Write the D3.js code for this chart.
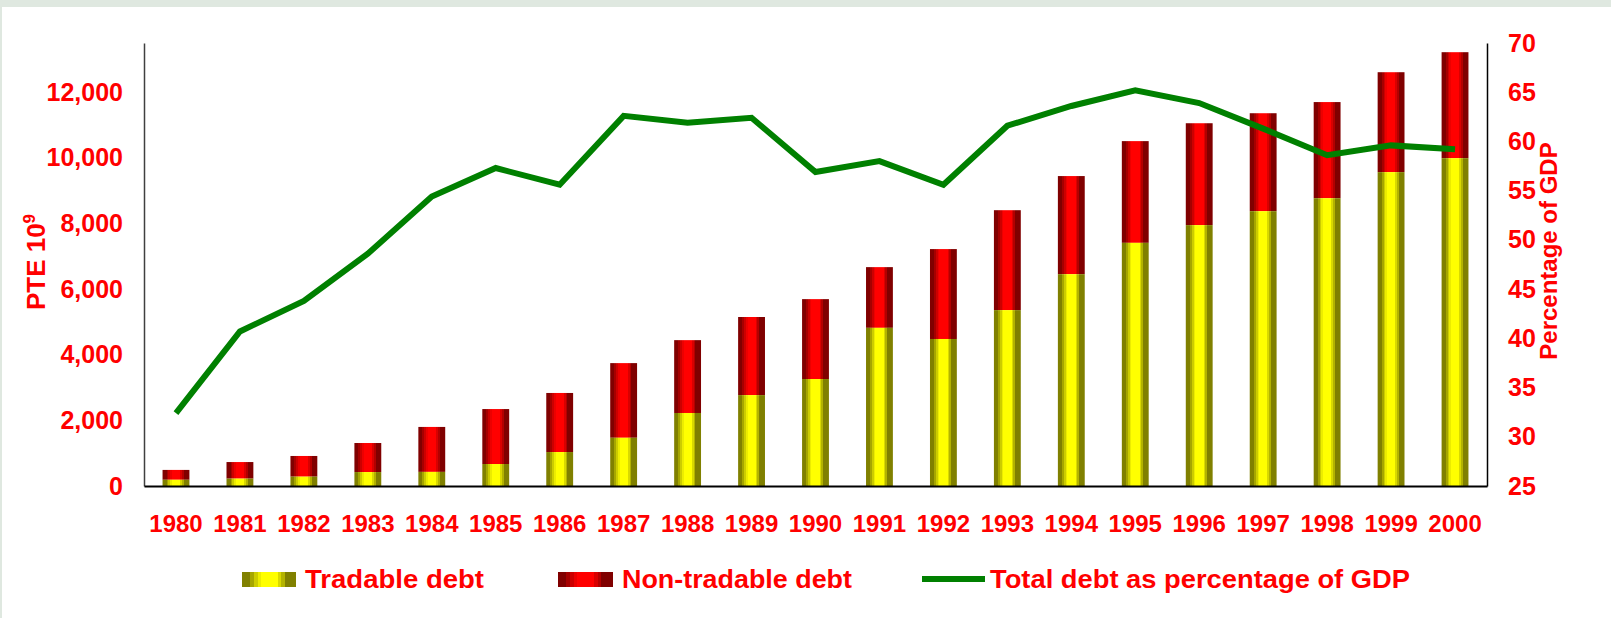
<!DOCTYPE html>
<html>
<head>
<meta charset="utf-8">
<script src="https://cdn.jsdelivr.net/npm/d3@7"></script>
<style>
  body { margin: 0; background: #ffffff; }
  text { font-family: "Liberation Sans", Arial, sans-serif; font-weight: bold; fill: #ff0000; }
</style>
</head>
<body>
<svg id="chart"></svg>
<script>
// data
var years = ["1980","1981","1982","1983","1984","1985","1986","1987","1988","1989","1990",
             "1991","1992","1993","1994","1995","1996","1997","1998","1999","2000"];
var tradable = [190, 225, 285, 425, 430, 670, 1035, 1470, 2225, 2770, 3260,
                4820, 4480, 5360, 6455, 7410, 7950, 8375, 8770, 9565, 9990];
var totalDebt = [490, 730, 915, 1310, 1800, 2345, 2835, 3745, 4445, 5150, 5695,
                 6670, 7220, 8405, 9445, 10510, 11055, 11360, 11700, 12610, 13220];
var pctGDP = [32.4, 40.7, 43.8, 48.6, 54.4, 57.3, 55.6, 62.6, 61.9, 62.4, 56.9,
              58.0, 55.6, 61.6, 63.6, 65.2, 63.9, 61.3, 58.6, 59.6, 59.2];
var leftTicks = [0, 2000, 4000, 6000, 8000, 10000, 12000];
var rightTicks = [25, 30, 35, 40, 45, 50, 55, 60, 65, 70];
var legendLabels = ["Tradable debt", "Non-tradable debt", "Total debt as percentage of GDP"];

var screen = {width: 1611, height: 618};
var plot = {left: 144, right: 1487, top: 43, bottom: 486};

var svg = d3.select("#chart")
    .attr("width", screen.width)
    .attr("height", screen.height);

// slide frame
svg.append("rect").attr("width", screen.width).attr("height", screen.height).attr("fill", "#dfe8e0");
svg.append("rect").attr("x", 2).attr("y", 7).attr("width", screen.width - 2).attr("height", screen.height - 7).attr("fill", "#ffffff");

// banded gradients for the cylinder look
var defs = svg.append("defs");
var bands = [[0, 0.15, 0], [0.15, 0.22, 0.3], [0.22, 0.29, 0.6], [0.29, 0.35, 0.85],
             [0.35, 0.66, 1], [0.66, 0.72, 0.7], [0.72, 0.79, 0.4], [0.79, 1, 0]];
var makeGrad = function(id, dark, light){
    var g = defs.append("linearGradient").attr("id", id)
        .attr("x1", "0%").attr("x2", "100%").attr("y1", "0%").attr("y2", "0%");
    var mix = d3.interpolateRgb(dark, light);
    bands.forEach(function(b){
        g.append("stop").attr("offset", b[0]).attr("stop-color", mix(b[2]));
        g.append("stop").attr("offset", b[1]).attr("stop-color", mix(b[2]));
    });
};
makeGrad("gradYellow", "#808000", "#ffff00");
makeGrad("gradRed", "#800000", "#ff0000");

var xScale = d3.scaleBand()
    .domain(years)
    .range([plot.left, plot.right])
    .paddingInner(0.58)
    .paddingOuter(0.29);
var yLeft = d3.scaleLinear().domain([0, 13500]).range([plot.bottom, plot.top]);
var yRight = d3.scaleLinear().domain([25, 70]).range([plot.bottom, plot.top]);

// bars
var barG = svg.append("g").attr("id", "bars");
barG.selectAll(".nontrad")
    .data(years)
    .enter()
    .append("rect")
    .attr("x", function(d){ return xScale(d); })
    .attr("width", xScale.bandwidth())
    .attr("y", function(d, i){ return yLeft(totalDebt[i]); })
    .attr("height", function(d, i){ return yLeft(tradable[i]) - yLeft(totalDebt[i]); })
    .attr("fill", "url(#gradRed)");
barG.selectAll(".trad")
    .data(years)
    .enter()
    .append("rect")
    .attr("x", function(d){ return xScale(d); })
    .attr("width", xScale.bandwidth())
    .attr("y", function(d, i){ return yLeft(tradable[i]); })
    .attr("height", function(d, i){ return yLeft(0) - yLeft(tradable[i]); })
    .attr("fill", "url(#gradYellow)");

// axes
var leftAxis = d3.axisLeft(yLeft).tickValues(leftTicks).tickFormat(d3.format(",")).tickSize(0).tickPadding(21);
var rightAxis = d3.axisRight(yRight).tickValues(rightTicks).tickSize(0).tickPadding(21);
var bottomAxis = d3.axisBottom(xScale).tickSize(0).tickPadding(29);

var gl = svg.append("g").attr("transform", "translate(" + plot.left + ",0)").call(leftAxis);
var gr = svg.append("g").attr("transform", "translate(" + plot.right + ",0)").call(rightAxis);
var gb = svg.append("g").attr("transform", "translate(0," + plot.bottom + ")").call(bottomAxis);

gl.select(".domain").attr("stroke", "#404040").attr("stroke-width", 1.5);
gr.select(".domain").attr("stroke", "#000000").attr("stroke-width", 1.5);
gb.select(".domain").attr("stroke", "#000000").attr("stroke-width", 2);
svg.selectAll(".tick text")
    .attr("fill", "#ff0000")
    .style("font-family", "'Liberation Sans', Arial, sans-serif")
    .style("font-weight", "bold")
    .style("font-size", "25px");
gb.selectAll(".tick text").style("font-size", "24px");

// line
var lineGenerator = d3.line()
    .x(function(d, i){ return xScale(years[i]) + xScale.bandwidth() / 2; })
    .y(function(d){ return yRight(d); });
svg.append("path")
    .datum(pctGDP)
    .attr("d", lineGenerator)
    .attr("fill", "none")
    .attr("stroke", "#008000")
    .attr("stroke-width", 6)
    .attr("stroke-linejoin", "miter");

// axis titles
var lt = svg.append("text")
    .attr("transform", "translate(45,262) rotate(-90)")
    .attr("text-anchor", "middle")
    .style("font-size", "26px");
lt.append("tspan").text("PTE 10");
lt.append("tspan").attr("dy", -10).style("font-size", "17px").text("9");

svg.append("text")
    .attr("transform", "translate(1557,251) rotate(-90)")
    .attr("text-anchor", "middle")
    .style("font-size", "24px")
    .text("Percentage of GDP");

// legend
var legend = svg.append("g").attr("id", "legend");
legend.append("rect").attr("x", 242).attr("y", 572).attr("width", 54).attr("height", 15).attr("fill", "url(#gradYellow)");
legend.append("rect").attr("x", 558).attr("y", 572).attr("width", 55).attr("height", 15).attr("fill", "url(#gradRed)");
legend.append("line").attr("x1", 922).attr("x2", 985).attr("y1", 579).attr("y2", 579)
    .attr("stroke", "#008000").attr("stroke-width", 6);

var legendX = [305, 622, 990];
var legendW = [179, 230, 420];
legend.selectAll(".ltext")
    .data(legendLabels)
    .enter()
    .append("text")
    .attr("x", function(d, i){ return legendX[i]; })
    .attr("y", 588)
    .attr("textLength", function(d, i){ return legendW[i]; })
    .attr("lengthAdjust", "spacingAndGlyphs")
    .style("font-size", "26px")
    .text(function(d){ return d; });
</script>
</body>
</html>
